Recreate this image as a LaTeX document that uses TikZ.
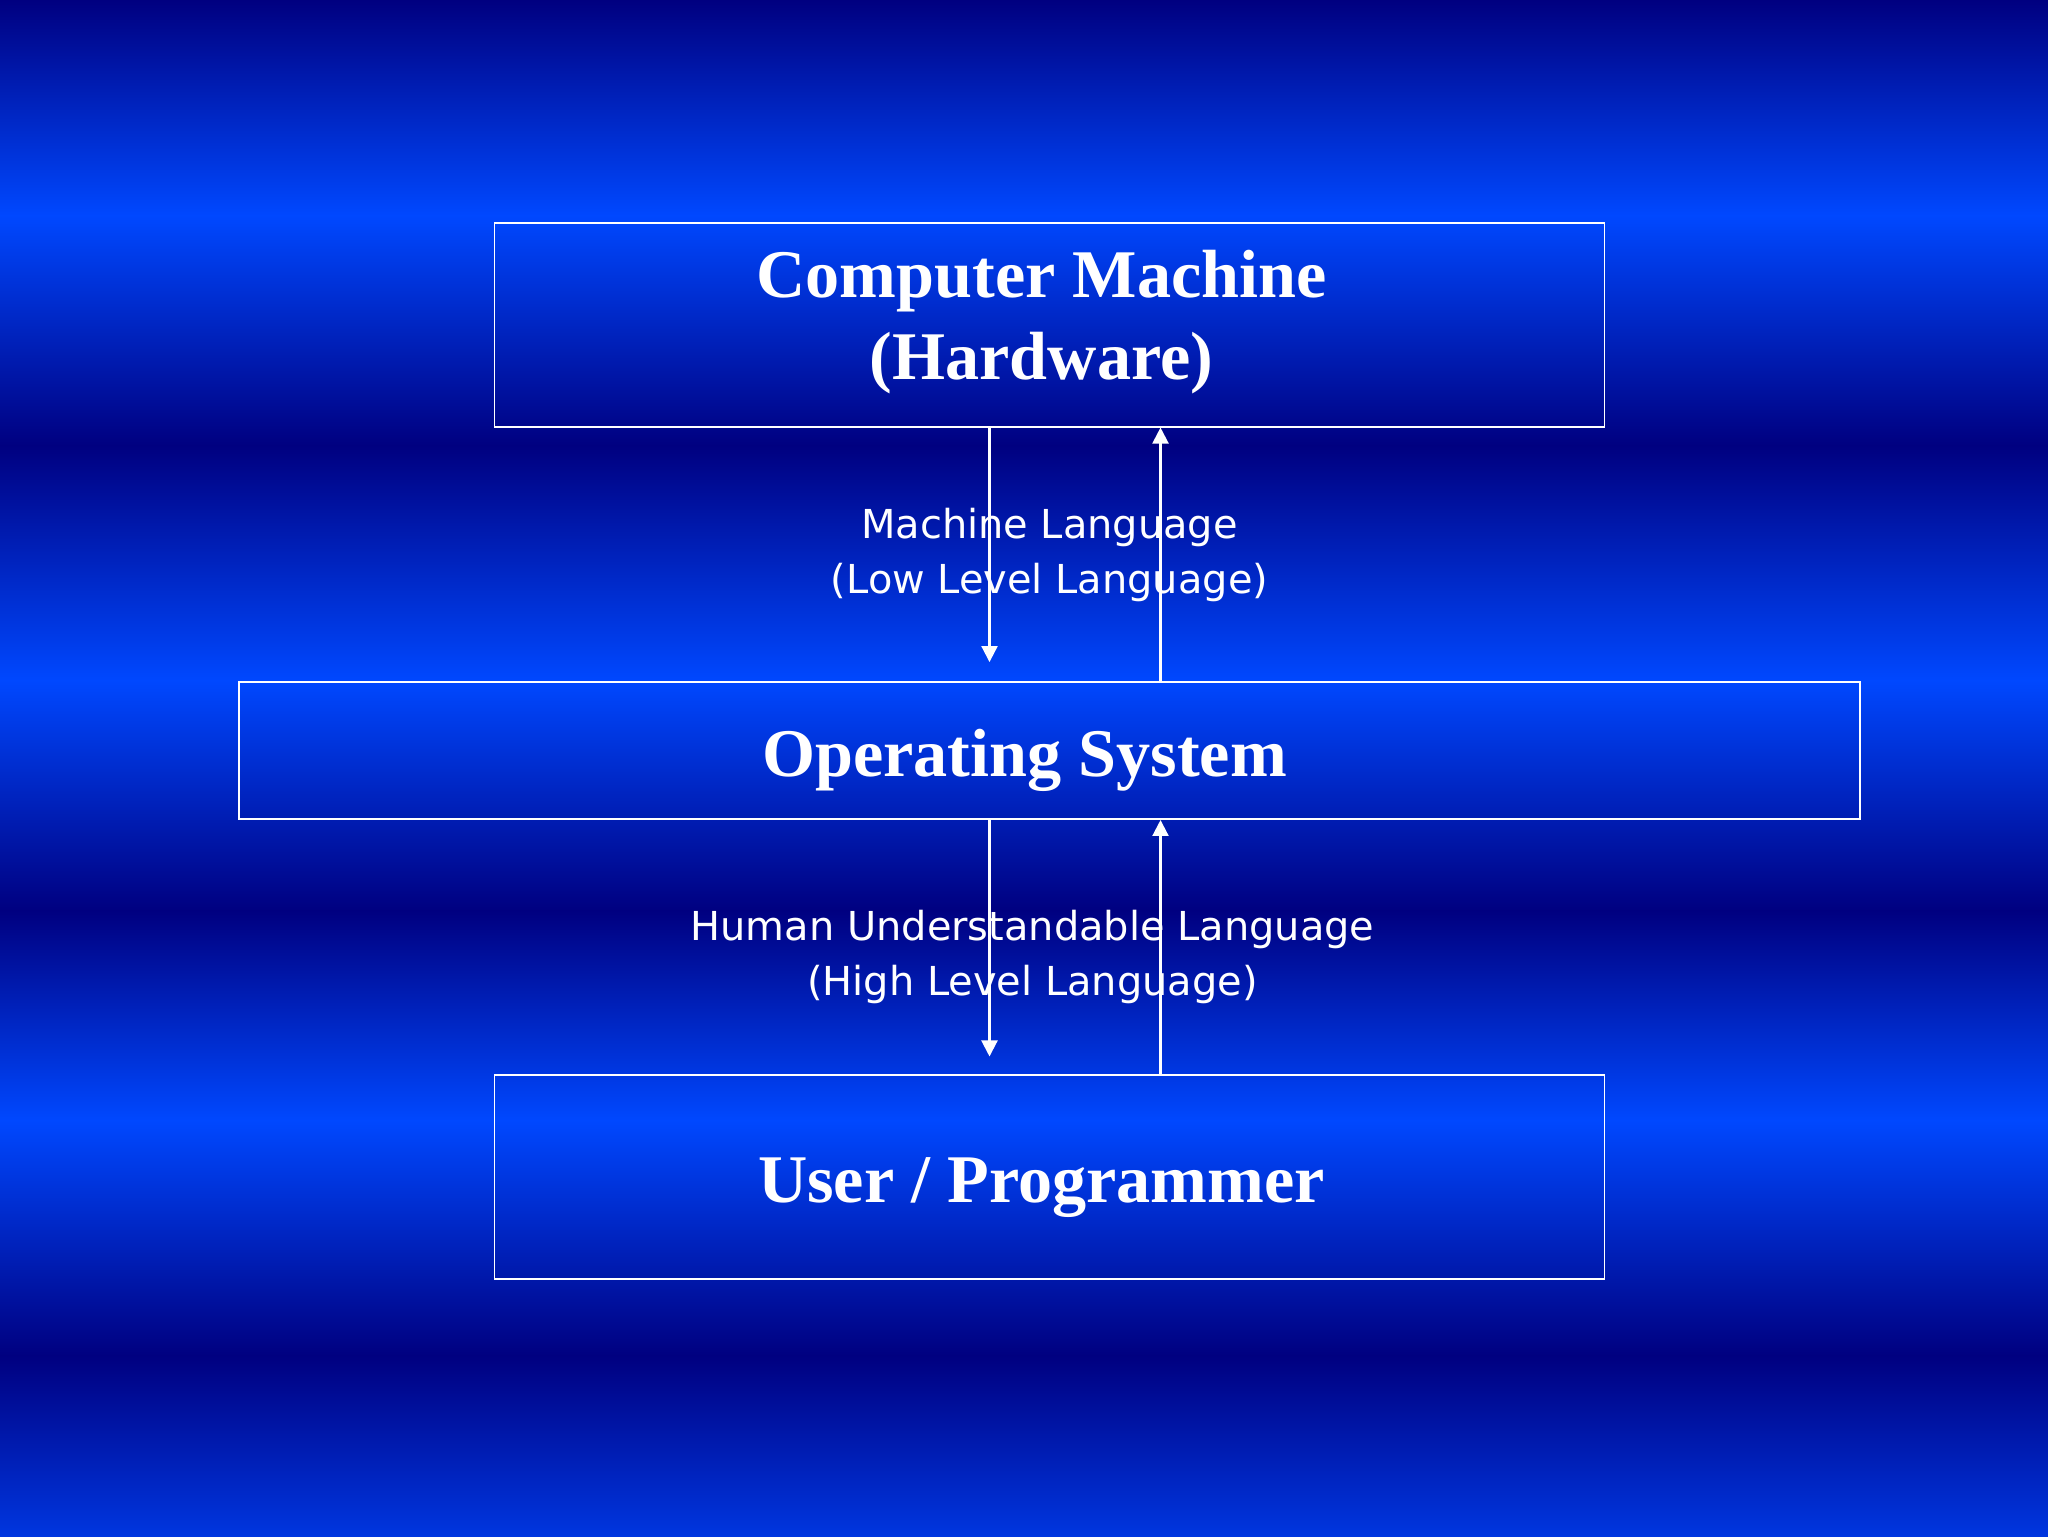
\documentclass[tikz,border=0pt]{standalone}
\usepackage{fontspec}
\setmainfont{Liberation Serif}
\newfontfamily\langfont{DejaVu Sans}
\usetikzlibrary{arrows.meta, positioning}
\definecolor{bgdark}{RGB}{0,0,128}
\definecolor{bgbright}{RGB}{0,72,255}
\colorlet{bgbottom}{bgbright!75!bgdark}

\begin{document}
\begin{tikzpicture}[x=0.1mm,y=-0.1mm,>={Triangle[width=1.6mm,length=1.6mm]},
                    node distance=25.6mm,line width=0.55pt]
   \tikzstyle{layer}=[draw=white,inner sep=0pt]
   \tikzstyle{title}=[text=white,align=center,
                      font=\bfseries\fontsize{19.4}{23.3}\selectfont]
   \tikzstyle{lang}=[text=white,align=center,
                     font=\langfont\fontsize{11.35}{15.6}\selectfont]
   \tikzstyle{flow}=[->,white,line width=0.6pt]

   \useasboundingbox (0,0) rectangle (2048,1536);
   % banded background
   \foreach \ya/\yb/\ca/\cb in {0/216/bgdark/bgbright, 215/446/bgbright/bgdark,
                                445/681/bgdark/bgbright, 680/911/bgbright/bgdark,
                                910/1121/bgdark/bgbright, 1120/1356/bgbright/bgdark,
                                1355/1536/bgdark/bgbottom}
     \shade[top color=\ca,bottom color=\cb] (0,\ya) rectangle (2048,\yb);

   \node[layer,minimum width=162.1mm,minimum height=13.7mm,
         label={[title,xshift=-2.5mm,yshift=-1mm]center:Operating System}] (OS) at (1049.5,750.5) {};
   \node[layer,minimum width=111mm,minimum height=20.4mm,
         label={[title,xshift=-0.8mm,yshift=0.25mm]center:Computer Machine\\(Hardware)}] (HW) [above=25.35mm of OS] {};
   \node[layer,minimum width=111mm,minimum height=20.4mm,
         label={[title,xshift=-0.8mm,yshift=-1mm]center:User / Programmer}] (USR) [below=25.45mm of OS] {};

   \draw[flow,shorten >=1.9mm] ([xshift=-6mm]HW.south) -- ([xshift=-6mm]OS.north);
   \draw[flow] ([xshift=11.1mm]OS.north) -- ([xshift=11.1mm]HW.south);
   \draw[flow,shorten >=1.8mm] ([xshift=-6mm]OS.south) -- ([xshift=-6mm]USR.north);
   \draw[flow] ([xshift=11.1mm]USR.north) -- ([xshift=11.1mm]OS.south);

   \path (HW.south) -- (OS.north) node[midway,lang,yshift=-0.1mm] {Machine Language\\(Low Level Language)};
   \path (OS.south) -- (USR.north) node[midway,lang,xshift=-1.7mm,yshift=-0.95mm] {Human Understandable Language\\(High Level Language)};
\end{tikzpicture}
\end{document}
